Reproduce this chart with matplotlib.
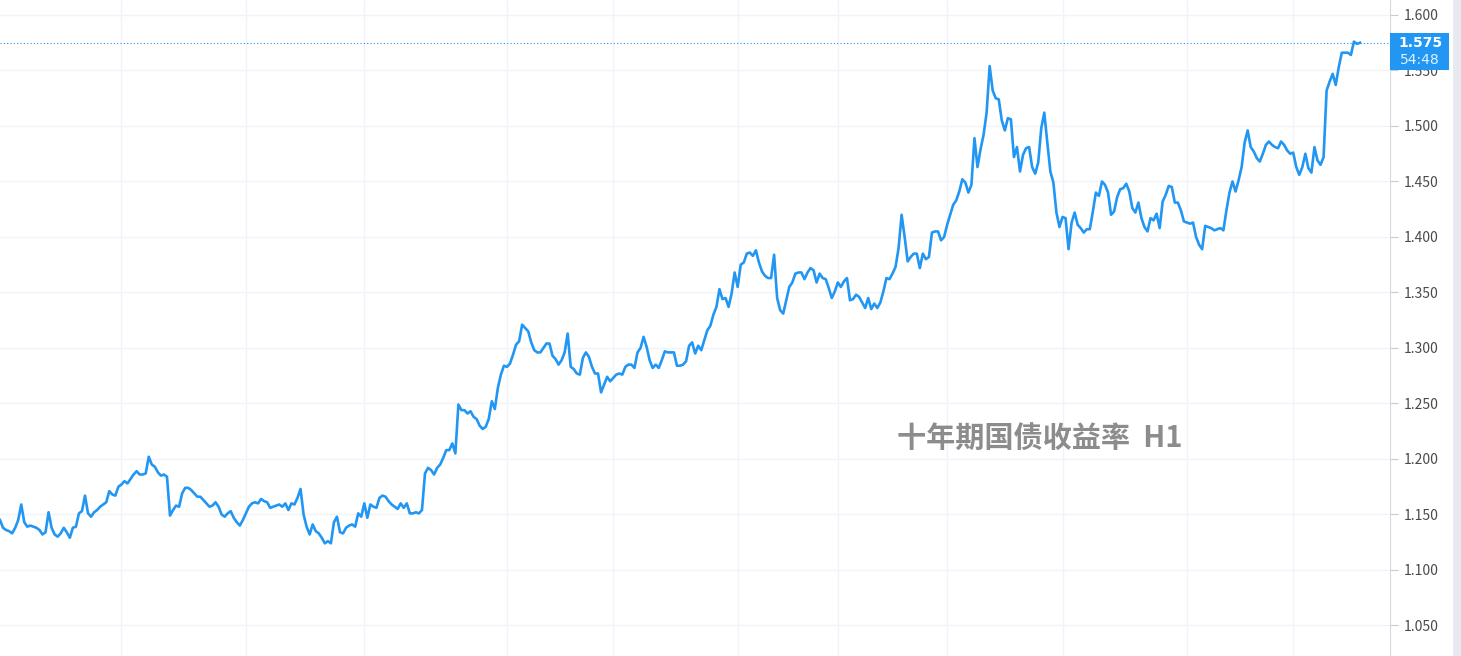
import matplotlib.pyplot as plt
import matplotlib.transforms as mtransforms
from matplotlib.patches import Rectangle

plt.rcParams['font.family'] = ['Noto Sans CJK SC', 'DejaVu Sans']

# hourly closes, ten-year government bond yield
yield_h1 = [
    1.145, 1.138, 1.136, 1.135, 1.133, 1.138, 1.145, 1.159, 1.143, 1.139,
    1.140, 1.139, 1.138, 1.136, 1.132, 1.134, 1.152, 1.138, 1.132, 1.130,
    1.133, 1.138, 1.134, 1.129, 1.138, 1.139, 1.151, 1.153, 1.167, 1.151,
    1.148, 1.152, 1.154, 1.157, 1.159, 1.161, 1.171, 1.168, 1.167, 1.175,
    1.177, 1.180, 1.178, 1.182, 1.186, 1.189, 1.186, 1.186, 1.187, 1.202,
    1.195, 1.193, 1.188, 1.185, 1.186, 1.184, 1.149, 1.154, 1.158, 1.157,
    1.169, 1.174, 1.174, 1.172, 1.169, 1.166, 1.166, 1.163, 1.160, 1.157,
    1.158, 1.161, 1.157, 1.150, 1.148, 1.151, 1.153, 1.147, 1.143, 1.140,
    1.145, 1.151, 1.157, 1.160, 1.161, 1.160, 1.164, 1.162, 1.161, 1.156,
    1.157, 1.158, 1.159, 1.157, 1.160, 1.154, 1.160, 1.159, 1.165, 1.173,
    1.150, 1.139, 1.132, 1.141, 1.135, 1.133, 1.129, 1.124, 1.126, 1.124,
    1.143, 1.148, 1.134, 1.133, 1.138, 1.140, 1.141, 1.139, 1.151, 1.148,
    1.160, 1.147, 1.159, 1.157, 1.156, 1.165, 1.167, 1.166, 1.162, 1.159,
    1.157, 1.155, 1.160, 1.156, 1.160, 1.151, 1.151, 1.152, 1.151, 1.154,
    1.187, 1.192, 1.190, 1.186, 1.192, 1.195, 1.201, 1.208, 1.208, 1.214,
    1.205, 1.249, 1.244, 1.244, 1.241, 1.243, 1.238,
    1.236, 1.230, 1.227, 1.229, 1.236, 1.252, 1.245,
    1.264, 1.276, 1.284, 1.283, 1.286, 1.294, 1.303, 1.306, 1.321, 1.318,
    1.315, 1.305, 1.298, 1.296, 1.296, 1.300, 1.304, 1.304, 1.293, 1.290,
    1.285, 1.289, 1.296, 1.313, 1.283, 1.281, 1.277, 1.276, 1.291, 1.296,
    1.292, 1.283, 1.277, 1.277, 1.260, 1.267, 1.274, 1.270, 1.273, 1.276,
    1.277, 1.276, 1.283, 1.285, 1.285, 1.282, 1.296, 1.300, 1.310, 1.301,
    1.289, 1.282, 1.285, 1.282, 1.289, 1.297, 1.296, 1.296, 1.296, 1.284,
    1.284, 1.285,
    1.288, 1.302, 1.305, 1.295, 1.302, 1.298, 1.307,
    1.316, 1.320, 1.330, 1.337, 1.353, 1.344, 1.345, 1.337, 1.349, 1.368,
    1.355, 1.375, 1.377, 1.385, 1.386, 1.383, 1.388, 1.377, 1.369, 1.365,
    1.363, 1.363, 1.384, 1.345, 1.334, 1.331, 1.343, 1.355, 1.359, 1.367,
    1.368, 1.368, 1.362, 1.368, 1.372, 1.370, 1.359, 1.367, 1.363, 1.362,
    1.354, 1.345, 1.351, 1.359, 1.355, 1.360, 1.363, 1.343, 1.344, 1.348,
    1.346, 1.341, 1.336, 1.345, 1.335, 1.340, 1.336, 1.341, 1.351, 1.363,
    1.362, 1.367, 1.373, 1.390,
    1.420, 1.400, 1.378, 1.382, 1.385, 1.385, 1.372, 1.385, 1.380, 1.382,
    1.404, 1.405, 1.405, 1.397, 1.400, 1.411, 1.420, 1.429, 1.433, 1.441,
    1.452, 1.449, 1.440, 1.447, 1.489, 1.463, 1.479, 1.492, 1.512, 1.554,
    1.532, 1.525, 1.524, 1.505, 1.496, 1.507, 1.506, 1.472, 1.481, 1.459,
    1.474, 1.480, 1.481, 1.463, 1.457, 1.467, 1.498, 1.512, 1.485, 1.459,
    1.449, 1.422, 1.409, 1.418, 1.417, 1.389, 1.413, 1.422, 1.411, 1.408,
    1.404, 1.407, 1.407, 1.423, 1.440, 1.437, 1.450, 1.447, 1.440, 1.420,
    1.423, 1.436, 1.443, 1.444,
    1.448, 1.441, 1.426, 1.422, 1.431, 1.417, 1.409, 1.405, 1.417, 1.415,
    1.421, 1.408, 1.432, 1.438, 1.446, 1.445, 1.431, 1.431, 1.424, 1.414,
    1.413, 1.412, 1.413, 1.400, 1.393, 1.389, 1.410, 1.409, 1.408, 1.406,
    1.407, 1.408, 1.406, 1.424, 1.440, 1.450, 1.441, 1.451, 1.463, 1.485,
    1.496, 1.481, 1.477, 1.471, 1.468, 1.475, 1.483, 1.486, 1.483, 1.481,
    1.480, 1.486, 1.483, 1.478, 1.475, 1.476, 1.463, 1.456, 1.463, 1.475,
    1.462, 1.458, 1.481, 1.469, 1.465, 1.472, 1.532, 1.540, 1.547, 1.537,
    1.553, 1.566, 1.566, 1.566, 1.564, 1.576, 1.574, 1.575,
]

# bar index where each new session starts
session_starts = [40, 81, 120, 167, 202, 243, 276, 312, 350, 391, 426]

price_ticks = [1.050, 1.100, 1.150, 1.200, 1.250, 1.300, 1.350,
               1.400, 1.450, 1.500, 1.550, 1.600]

last_value = 1.575
countdown = "54:48"
title = "十年期国债收益率  H1"

line_color = "#2196f3"
grid_color = "#f0f3fa"

fig = plt.figure(figsize=(14.61, 6.56), dpi=100)
ax = fig.add_axes([0, 0, 1390 / 1461, 1])

n = len(yield_h1)
ax.plot(range(n), yield_h1, color=line_color, lw=1.9, solid_joinstyle="round")

ax.set_xlim(0, (n - 1) * 1390 / 1360)
ax.set_ylim(1.0225, 1.6135)

ax.set_xticks(session_starts)
ax.set_yticks(price_ticks)
ax.set_yticklabels([f"{v:.3f}" for v in price_ticks])
ax.grid(True, color=grid_color, lw=1.0)
ax.set_axisbelow(True)

ax.yaxis.tick_right()
ax.tick_params(axis="x", length=0, labelbottom=False)
ax.tick_params(axis="y", length=6, width=0.8, color="#c8cbd2",
               labelsize=10, labelcolor="#4a4a4a", pad=4)
for side in ["top", "left", "bottom"]:
    ax.spines[side].set_visible(False)
ax.spines["right"].set_color("#d6d9e0")
ax.spines["right"].set_linewidth(0.8)

# last value marker line and label
ax.axhline(last_value, color=line_color, lw=0.8, ls=(0, (1, 2)))
blend = mtransforms.blended_transform_factory(ax.transAxes, ax.transData)
box = Rectangle((1.0, 1.5505), 59 / 1390, 0.0335, transform=blend,
                facecolor=line_color, edgecolor="none", clip_on=False, zorder=5)
ax.add_patch(box)
ax.text(1.0 + 30 / 1390, last_value, f"{last_value:.3f}", transform=blend,
        ha="center", va="center", color="white", fontsize=10,
        fontweight="bold", family="DejaVu Sans", clip_on=False, zorder=6)
ax.text(1.0 + 30 / 1390, 1.5595, countdown, transform=blend,
        ha="center", va="center", color="#e3f1fd", fontsize=10,
        family="DejaVu Sans", clip_on=False, zorder=6)

# watermark
ax.text(0.748, 0.332, title, transform=ax.transAxes, ha="center", va="center",
        fontsize=21, fontweight="bold", color="#8c8c8c",
        family=["Noto Sans CJK SC", "DejaVu Sans"])

# scrollbar strip at right edge
fig.patches.append(Rectangle((1453 / 1461, 0), 8 / 1461, 1,
                             transform=fig.transFigure, facecolor="#e8e9f0",
                             edgecolor="none"))

fig.savefig("out.png", dpi=100)
